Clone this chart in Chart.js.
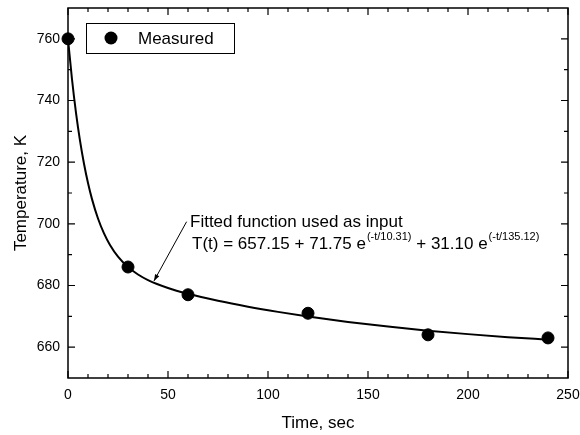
<!DOCTYPE html>
<html><head><meta charset="utf-8">
<script src="https://cdn.jsdelivr.net/npm/chart.js@4/dist/chart.umd.min.js"></script>
<style>html,body{margin:0;padding:0;background:#fff}#wrap{width:580px;height:435px}</style>
</head><body><div id="wrap"><canvas id="c" width="580" height="435"></canvas></div>
<script>
const measuredTime = [0, 30, 60, 120, 180, 240];
const measuredTemp = [760, 686, 677, 671, 664, 663];
const fitTime = [0, 2, 4, 6, 8, 10, 12, 15, 18, 21, 25, 30, 35, 40, 50, 60, 75, 90, 105, 120, 140, 160, 180, 200, 220, 240];
const fitTemp = [760.00, 746.89, 736.02, 726.99, 719.49, 713.23, 708.01, 701.73, 696.89, 693.13, 689.35, 685.97, 683.56, 681.76, 679.19, 677.31, 675.05, 673.13, 671.45, 669.95, 668.19, 666.67, 665.36, 664.23, 663.25, 662.42];
const xMajorTicks = [0, 50, 100, 150, 200, 250];
const xMinorTicks = [10, 20, 30, 40, 60, 70, 80, 90, 110, 120, 130, 140, 160, 170, 180, 190, 210, 220, 230, 240];
const yMajorTicks = [660, 680, 700, 720, 740, 760];
const yMinorTicks = [670, 690, 710, 730, 750];
const legendLabel = 'Measured';
const noteLine1 = 'Fitted function used as input';
const noteParts = [['T(t) = 657.15 + 71.75 e', false], ['(-t/10.31)', true], [' + 31.10 e', false], ['(-t/135.12)', true]];
const arrowFrom = [59.3, 700.7];
const arrowTo = [43, 681.5];

const FONT = '"Liberation Sans", Arial, Helvetica, sans-serif';

const framePlugin = {
  id: 'frame',
  afterDraw(chart) {
    const ctx = chart.ctx, a = chart.chartArea;
    const xs = chart.scales.x, ys = chart.scales.y;
    ctx.save();
    ctx.strokeStyle = '#000';
    ctx.lineWidth = 1.5;
    ctx.strokeRect(a.left, a.top, a.right - a.left, a.bottom - a.top);
    ctx.lineWidth = 1.2;
    ctx.beginPath();
    const tick = (vals, len) => {
      vals.forEach(v => {
        const px = xs.getPixelForValue(v);
        ctx.moveTo(px, a.bottom); ctx.lineTo(px, a.bottom - len);
        ctx.moveTo(px, a.top); ctx.lineTo(px, a.top + len);
      });
    };
    const ytick = (vals, len) => {
      vals.forEach(v => {
        const py = ys.getPixelForValue(v);
        ctx.moveTo(a.left, py); ctx.lineTo(a.left + len, py);
        ctx.moveTo(a.right, py); ctx.lineTo(a.right - len, py);
      });
    };
    tick(xMajorTicks, 7); tick(xMinorTicks, 4);
    ytick(yMajorTicks, 7); ytick(yMinorTicks, 4);
    ctx.stroke();

    // legend box
    ctx.lineWidth = 1;
    ctx.strokeRect(86.5, 23.5, 148, 30);
    ctx.fillStyle = '#000';
    ctx.beginPath(); ctx.arc(111, 38, 6.5, 0, Math.PI * 2); ctx.fill();
    ctx.font = '17px ' + FONT;
    ctx.textBaseline = 'middle';
    ctx.textAlign = 'left';
    ctx.fillText(legendLabel, 138, 39);

    // annotation
    ctx.fillText(noteLine1, 190, 222);
    let x = 192;
    noteParts.forEach(([t, sup]) => {
      ctx.font = (sup ? '11px ' : '17px ') + FONT;
      ctx.fillText(t, x + (sup ? 1 : 0), sup ? 237 : 244);
      x += ctx.measureText(t).width + (sup ? 1 : 0);
    });

    // arrow
    const x1 = xs.getPixelForValue(arrowFrom[0]), y1 = ys.getPixelForValue(arrowFrom[1]);
    const x2 = xs.getPixelForValue(arrowTo[0]), y2 = ys.getPixelForValue(arrowTo[1]);
    ctx.lineWidth = 1;
    ctx.beginPath(); ctx.moveTo(x1, y1); ctx.lineTo(x2, y2); ctx.stroke();
    const ang = Math.atan2(y2 - y1, x2 - x1), L = 7, w = 0.35;
    ctx.beginPath();
    ctx.moveTo(x2, y2);
    ctx.lineTo(x2 - L * Math.cos(ang - w), y2 - L * Math.sin(ang - w));
    ctx.lineTo(x2 - L * Math.cos(ang + w), y2 - L * Math.sin(ang + w));
    ctx.closePath(); ctx.fill();
    ctx.restore();
  }
};

new Chart(document.getElementById('c'), {
  type: 'scatter',
  data: {
    datasets: [
      {
        label: legendLabel,
        data: measuredTime.map((t, i) => ({x: t, y: measuredTemp[i]})),
        backgroundColor: '#000', borderColor: '#000',
        pointRadius: 6, borderWidth: 1, clip: false, showLine: false
      },
      {
        label: 'Fit',
        data: fitTime.map((t, i) => ({x: t, y: fitTemp[i]})),
        borderColor: '#000', backgroundColor: '#000',
        showLine: true, pointRadius: 0, borderWidth: 2,
        cubicInterpolationMode: 'monotone'
      }
    ]
  },
  options: {
    responsive: false, animation: false, devicePixelRatio: 1,
    layout: {padding: {top: 8, right: 12, left: 0, bottom: 0}},
    plugins: {legend: {display: false}, tooltip: {enabled: false}},
    scales: {
      x: {
        type: 'linear', min: 0, max: 250,
        afterBuildTicks: s => { s.ticks = xMajorTicks.map(v => ({value: v})); },
        afterFit: s => { s.height = 57; s.paddingLeft = 0; s.paddingRight = 0; },
        grid: {display: false, drawTicks: false},
        border: {display: false},
        ticks: {color: '#000', font: {family: FONT, size: 14}, padding: 9, maxRotation: 0, autoSkip: false},
        title: {display: true, text: 'Time, sec', color: '#000', font: {family: FONT, size: 17}, padding: {top: 0, bottom: 1}}
      },
      y: {
        type: 'linear', min: 650, max: 770,
        afterBuildTicks: s => { s.ticks = yMajorTicks.map(v => ({value: v})); },
        afterFit: s => { s.width = 68; s.paddingTop = 0; s.paddingBottom = 0; },
        grid: {display: false, drawTicks: false},
        border: {display: false},
        ticks: {color: '#000', font: {family: FONT, size: 14}, padding: 8, autoSkip: false},
        title: {display: true, text: 'Temperature, K', color: '#000', font: {family: FONT, size: 17}, padding: {top: 11, bottom: 0}}
      }
    }
  },
  plugins: [framePlugin]
});
</script>
</body></html>
